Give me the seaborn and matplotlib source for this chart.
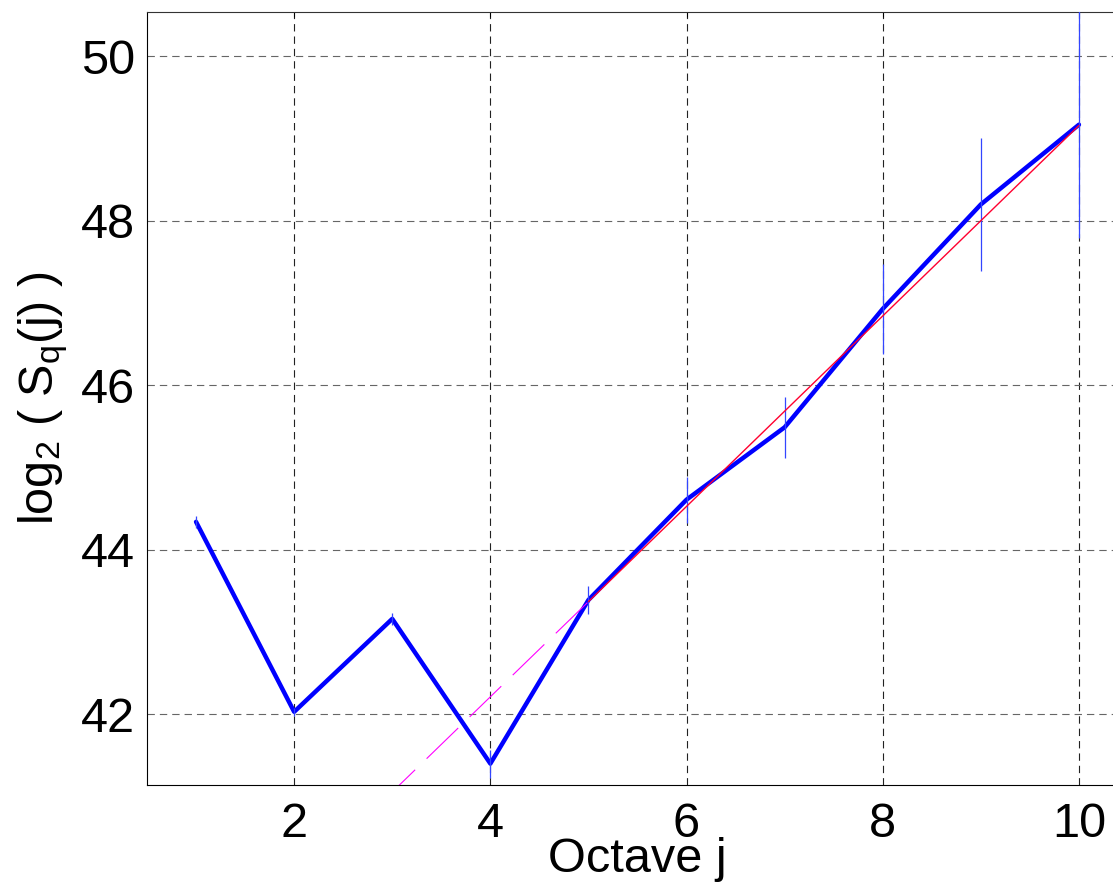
import numpy as np
import pandas as pd
import matplotlib
matplotlib.use('Agg')
import matplotlib.pyplot as plt
import seaborn as sns

# Octave index and log2 of the structure function
octave = [1, 2, 3, 4, 5, 6, 7, 8, 9, 10]
log2_sq = [44.34, 42.03, 43.16, 41.40, 43.39, 44.61, 45.49, 46.93, 48.20, 49.17]
# half-width of the confidence interval at each octave
ci_half = [0.07, 0.05, 0.07, 0.17, 0.17, 0.28, 0.37, 0.55, 0.81, 1.38]

# Regression line over octaves 5..10 and its dashed extension
fit_x = [5, 10]
fit_y = [43.37, 49.16]
ext_x = [1, 5]
ext_y = [38.74, 43.37]

x_ticks = [2, 4, 6, 8, 10]
y_ticks = [42, 44, 46, 48, 50]

sns.set_style('white')
plt.rcParams['font.family'] = ['Liberation Sans', 'DejaVu Sans']
plt.rcParams['mathtext.fontset'] = 'custom'
plt.rcParams['mathtext.rm'] = 'Liberation Sans'
plt.rcParams['mathtext.it'] = 'Liberation Sans'
plt.rcParams['lines.scale_dashes'] = False
plt.rcParams['text.color'] = 'black'
plt.rcParams['axes.labelcolor'] = 'black'

df = pd.DataFrame({'octave': octave, 'log2_sq': log2_sq, 'ci': ci_half})

fig = plt.figure(figsize=(11.13, 8.83), dpi=100)
# axes run slightly past the right edge of the figure, like the cropped original
ax = fig.add_axes([147 / 1113, 1 - 785 / 883, 981 / 1113, 773 / 883])

sns.lineplot(data=df, x='octave', y='log2_sq', color='#0000ff', lw=3.2,
             ax=ax, zorder=2)
ax.vlines(df['octave'], df['log2_sq'] - df['ci'], df['log2_sq'] + df['ci'],
          color='#3346ff', lw=0.9, zorder=3)
ax.plot(ext_x, ext_y, color='#ff00ff', lw=0.8, ls=(0, (31.7, 11.5)), zorder=4)
ax.plot(fit_x, fit_y, color='#ff0030', lw=1.0, zorder=5)

ax.set_xlim(0.5, 10.5)
ax.set_ylim(41.14, 50.54)
ax.set_xticks(x_ticks)
ax.set_yticks(y_ticks)

# MATLAB-style dashed grid
ax.set_axisbelow(True)
ax.xaxis.grid(True, color='#222222', lw=0.8, ls=(0, (5.3, 3.6)))
ax.yaxis.grid(True, color='#666666', lw=0.8, ls=(0, (5.3, 3.6)))

ax.tick_params(direction='in', length=3.6, width=0.75, labelsize=35,
               top=True, right=True, colors='black')
ax.tick_params(axis='x', pad=12)
ax.tick_params(axis='y', pad=8.6)

for side in ['left', 'bottom', 'top', 'right']:
    ax.spines[side].set_color('black')
    ax.spines[side].set_linewidth(0.8)
ax.spines['top'].set_color('#333333')

ax.set_xlabel('Octave j', fontsize=35, color='black')
ax.set_ylabel(r'log$_2$ ( S$_q$(j) )', fontsize=35, color='black')
ax.xaxis.set_label_coords(0.5, -0.0670)
ax.yaxis.set_label_coords(-0.0785, 0.5)

fig.savefig('out.png', dpi=100)
